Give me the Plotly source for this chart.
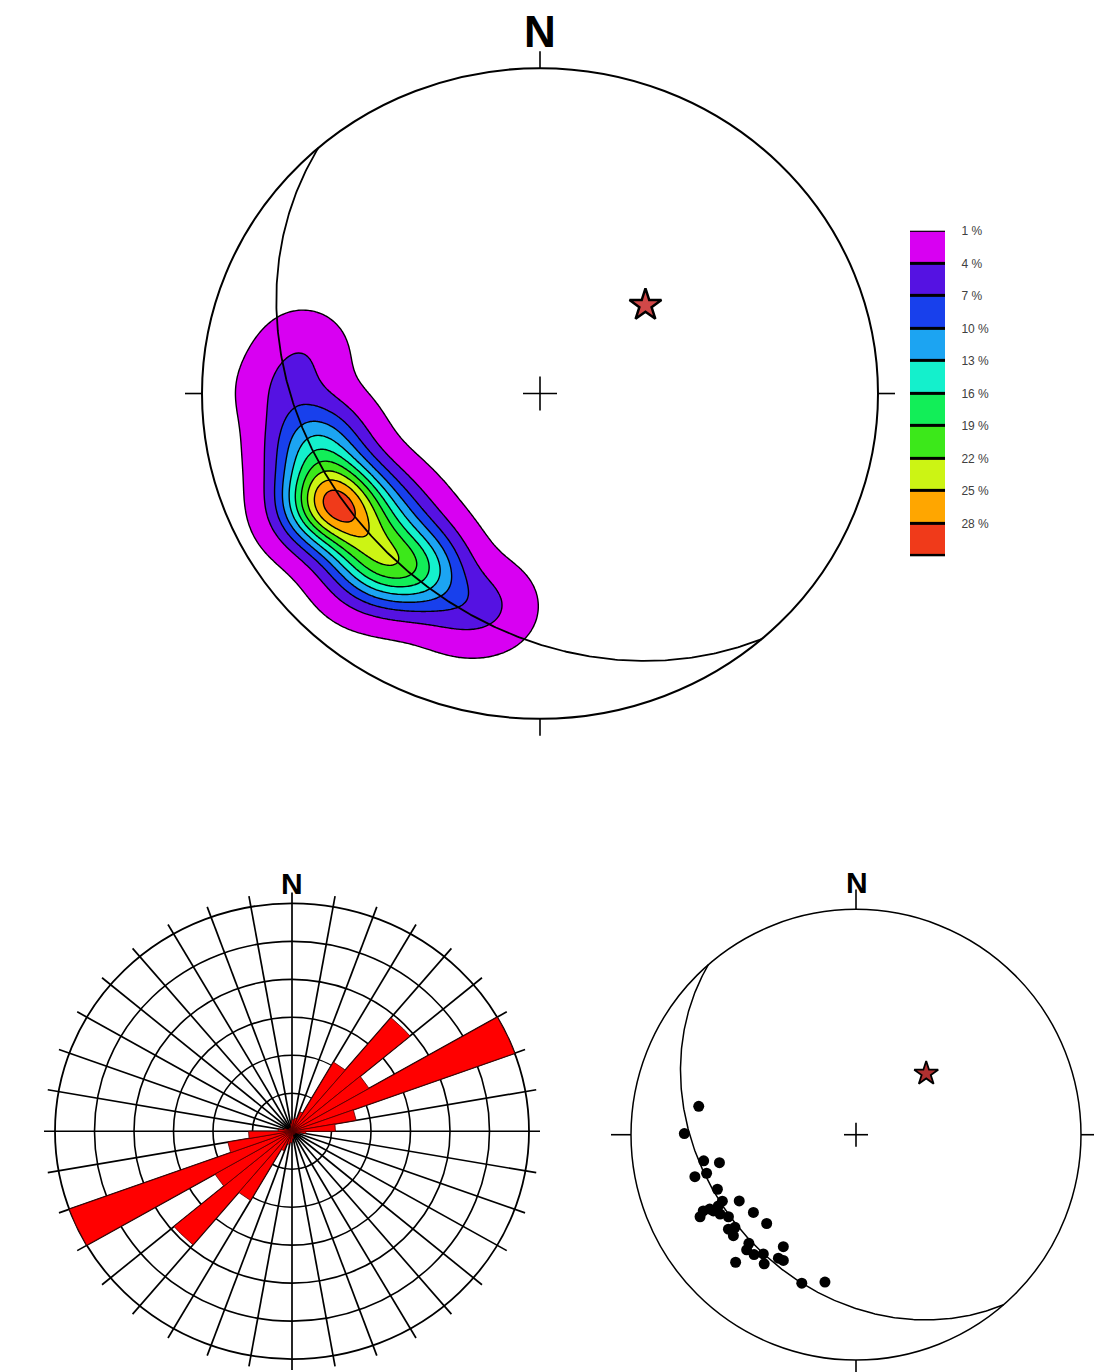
import numpy as np
import plotly.graph_objects as go

W, H = 1094, 1372

# ---------------- data ----------------
# Poles (Schmidt equal-area net, lower hemisphere; unit primitive; x = east, y = north)
pole_x = [-0.699, -0.763, -0.677, -0.607, -0.716, -0.664, -0.616, -0.594, -0.519, -0.679,
          -0.693, -0.634, -0.604, -0.567, -0.456, -0.397, -0.567, -0.538, -0.545, -0.476,
          -0.486, -0.453, -0.412, -0.323, -0.345, -0.323, -0.535, -0.408, -0.241, -0.138,
          -0.612, -0.650]
pole_y = [0.126, 0.005, -0.116, -0.124, -0.186, -0.171, -0.242, -0.295, -0.294, -0.338,
          -0.364, -0.338, -0.352, -0.364, -0.345, -0.394, -0.419, -0.411, -0.448, -0.482,
          -0.511, -0.532, -0.529, -0.497, -0.548, -0.558, -0.566, -0.573, -0.659, -0.654,
          -0.316, -0.330]

# Best-fit girdle pole (beta axis), trend / plunge in degrees
beta_trend = 49.0
beta_plunge = 56.0

# Contour levels (% per 1% area) and peak density of the diagram
level_values = [1, 4, 7, 10, 13, 16, 19, 22, 25, 28]
level_labels = ["1 %", "4 %", "7 %", "10 %", "13 %", "16 %", "19 %", "22 %", "25 %", "28 %"]
level_colors = ["#D800F2", "#5512E2", "#1840EC", "#1CA4F2", "#14F0CC",
                "#12EE58", "#3CE81A", "#CCF414", "#FFA600", "#F03A1A"]
peak_density = 30.0

# Rose diagram (bidirectional), 10-degree bins from 0 to 180; outer ring = 6
rose_bin_start = [0, 10, 20, 30, 40, 50, 60, 70, 80, 90, 100, 110, 120, 130, 140, 150, 160, 170]
rose_values = [0.3, 0.35, 0.55, 2.1, 3.9, 2.25, 6.0, 1.65, 1.1, 0.35, 0.2, 0.1,
               0.1, 0.1, 0.1, 0.1, 0.1, 0.2]
rose_rings = [1, 2, 3, 4, 5, 6]

# ---------------- helpers ----------------
def box(cx, cy, sx, sy, x0, x1, y0, y1):
    xd = [x0 / W, x1 / W]
    xr = [(x0 - cx) / sx, (x1 - cx) / sx]
    yd = [(H - y1) / H, (H - y0) / H]
    yr = [(cy - y1) / sy, (cy - y0) / sy]
    return xd, xr, yd, yr


def great_circle(trend, plunge, n=400):
    T, P = np.radians(trend), np.radians(plunge)
    p = np.array([np.cos(P) * np.sin(T), np.cos(P) * np.cos(T), np.sin(P)])
    a = np.array([np.cos(T), -np.sin(T), 0.0])
    b = np.cross(p, a)
    b /= np.linalg.norm(b)
    if b[2] < 0:
        b = -b
    t = np.linspace(0, np.pi, n)
    v = np.outer(np.cos(t), a) + np.outer(np.sin(t), b)
    d = np.clip(v[:, 2], 0, None)
    return v[:, 0] / np.sqrt(1 + d), v[:, 1] / np.sqrt(1 + d)


def project_line(trend, plunge):
    T, P = np.radians(trend), np.radians(plunge)
    e, n, d = np.cos(P) * np.sin(T), np.cos(P) * np.cos(T), np.sin(P)
    return e / np.sqrt(1 + d), n / np.sqrt(1 + d)


def net_shapes(xref, yref, sx, sy, tick_px, cross_px, lw):
    tx, ty = tick_px / sx, tick_px / sy
    cx, cy = cross_px / sx, cross_px / sy
    ln = dict(color="black", width=lw)
    s = [dict(type="circle", xref=xref, yref=yref, x0=-1, x1=1, y0=-1, y1=1, line=ln, layer="above")]
    for (x0, y0, x1, y1) in [(0, 1, 0, 1 + ty), (0, -1, 0, -1 - ty), (1, 0, 1 + tx, 0),
                             (-1, 0, -1 - tx, 0), (-cx, 0, cx, 0), (0, -cy, 0, cy)]:
        s.append(dict(type="line", xref=xref, yref=yref, x0=x0, y0=y0, x1=x1, y1=y1,
                      line=dict(color="black", width=1.6), layer="above"))
    return s


fig = go.Figure()
shapes = []

# ---------------- top: contoured pole diagram ----------------
T_CX, T_CY, T_SX, T_SY = 540, 388.5, 338, 327
xd1, xr1, yd1, yr1 = box(T_CX, T_CY, T_SX, T_SY, 120, 900, 0, 770)

px = np.array(pole_x)
py = np.array(pole_y)
g = np.linspace(-1, 1, 281)
GX, GY = np.meshgrid(g, g)
sigma = 0.087
d2 = (GX[..., None] - px) ** 2 + (GY[..., None] - py) ** 2
dens = np.exp(-d2 / (2 * sigma ** 2)).sum(-1)
dens = dens / dens.max() * peak_density
dens[GX ** 2 + GY ** 2 > 1.0] = np.nan

ncol = len(level_colors) + 1
cols = ["rgba(255,255,255,0)"] + level_colors
cscale = []
for k, c in enumerate(cols):
    lo = max(0.0, (k - 0.5) / (ncol - 1))
    hi = min(1.0, (k + 0.5) / (ncol - 1))
    cscale += [[lo, c], [hi, c]]
step = level_values[1] - level_values[0]

fig.add_trace(go.Contour(
    x=g, y=g, z=dens, xaxis="x", yaxis="y",
    autocontour=False,
    contours=dict(start=level_values[0], end=level_values[-1], size=step,
                  coloring="fill", showlines=True),
    line=dict(color="black", width=1.4, smoothing=1),
    colorscale=cscale, zmin=level_values[0] - step / 2, zmax=level_values[-1] + step / 2,
    zauto=False, showscale=False, hoverinfo="skip", connectgaps=False))

gcx, gcy = great_circle(beta_trend, beta_plunge)
fig.add_trace(go.Scatter(x=gcx, y=gcy, mode="lines", xaxis="x", yaxis="y",
                         line=dict(color="black", width=1.8), hoverinfo="skip"))
bx, by = project_line(beta_trend, beta_plunge)
fig.add_trace(go.Scatter(x=[bx], y=[by], mode="markers", xaxis="x", yaxis="y",
                         marker=dict(symbol="star", size=24, color="#D04848",
                                     line=dict(color="black", width=2.5)), hoverinfo="skip"))
shapes += net_shapes("x", "y", T_SX, T_SY, 17, 17, 2)

# ---------------- colour legend ----------------
xd2, xr2 = [910 / W, 945 / W], [0, 1]
yd2 = [(H - 552) / H, (H - 225) / H]
nlev = len(level_values)
leg_scale = []
for k, c in enumerate(level_colors):
    leg_scale += [[k / nlev, c], [(k + 1) / nlev, c]]
fig.add_trace(go.Heatmap(
    x=[0, 1], y=list(range(nlev + 1)), z=[[k] for k in range(nlev)],
    xaxis="x2", yaxis="y2", colorscale=leg_scale, zmin=-0.5, zmax=nlev - 0.5,
    showscale=False, ygap=3, xgap=0, hoverinfo="skip"))
shapes.append(dict(type="rect", xref="x2", yref="y2", x0=0, x1=1, y0=0, y1=nlev,
                   line=dict(color="black", width=2.5), fillcolor="black", layer="below"))

# ---------------- bottom-left: rose diagram (cartesian, outer ring = 1) ----------------
R_CX, R_CY, R_SX, R_SY = 292, 1130, 237, 229
xd4, xr4, yd4, yr4 = box(R_CX, R_CY, R_SX, R_SY, 20, 580, 870, 1372)
rmax = rose_rings[-1]
tick_out = 11.0 / R_SX
sx_, sy_ = [], []
for a in range(0, 360, 10):
    t = np.radians(a)
    sx_ += [0, (1 + tick_out) * np.sin(t), None]
    sy_ += [0, (1 + tick_out * R_SX / R_SY) * np.cos(t), None]
fig.add_trace(go.Scatter(x=sx_, y=sy_, mode="lines", xaxis="x4", yaxis="y4",
                         line=dict(color="black", width=1.7), hoverinfo="skip"))
for k in rose_rings:
    rr = k / rmax
    shapes.append(dict(type="circle", xref="x4", yref="y4", x0=-rr, x1=rr, y0=-rr, y1=rr,
                       line=dict(color="black", width=1.8 if k == rmax else 1.6), layer="below"))
for start, val in zip(rose_bin_start, rose_values):
    for off in (0, 180):
        ang = np.radians(np.linspace(start + off, start + off + 10, 12))
        rr = val / rmax
        xs = [0] + list(rr * np.sin(ang)) + [0]
        ys = [0] + list(rr * np.cos(ang)) + [0]
        fig.add_trace(go.Scatter(x=xs, y=ys, mode="lines", fill="toself", fillcolor="#FF0000",
                                 xaxis="x4", yaxis="y4",
                                 line=dict(color="#500000", width=0.8), hoverinfo="skip"))

# ---------------- bottom-right: poles + girdle ----------------
B_CX, B_CY, B_SX, B_SY = 856, 1133.5, 225, 226.5
xd3, xr3, yd3, yr3 = box(B_CX, B_CY, B_SX, B_SY, 600, 1094, 860, 1372)
fig.add_trace(go.Scatter(x=gcx, y=gcy, mode="lines", xaxis="x3", yaxis="y3",
                         line=dict(color="black", width=1.5), hoverinfo="skip"))
fig.add_trace(go.Scatter(x=pole_x, y=pole_y, mode="markers", xaxis="x3", yaxis="y3",
                         marker=dict(size=11, color="black"), hoverinfo="skip"))
fig.add_trace(go.Scatter(x=[bx], y=[by], mode="markers", xaxis="x3", yaxis="y3",
                         marker=dict(symbol="star", size=18, color="#B03030",
                                     line=dict(color="black", width=1.8)), hoverinfo="skip"))
shapes += net_shapes("x3", "y3", B_SX, B_SY, 20, 12, 1.5)

ax_hidden = dict(visible=False, showgrid=False, zeroline=False)
fig.update_layout(
    width=W, height=H, margin=dict(l=0, r=0, t=0, b=0),
    paper_bgcolor="white", plot_bgcolor="rgba(0,0,0,0)", showlegend=False,
    font=dict(family="Liberation Sans, Arial, sans-serif"),
    xaxis=dict(domain=xd1, range=xr1, **ax_hidden),
    yaxis=dict(domain=yd1, range=yr1, **ax_hidden),
    xaxis2=dict(domain=xd2, range=xr2, anchor="y2", **ax_hidden),
    yaxis2=dict(domain=yd2, range=[nlev, 0], anchor="x2", visible=True, showgrid=False,
                zeroline=False, side="right", tickmode="array", tickvals=list(range(nlev)),
                ticktext=level_labels, ticks="outside", ticklen=13, tickcolor="rgba(0,0,0,0)",
                showline=False,
                tickfont=dict(size=12, color="#404040", family="Liberation Sans, Arial")),
    xaxis3=dict(domain=xd3, range=xr3, anchor="y3", **ax_hidden),
    yaxis3=dict(domain=yd3, range=yr3, anchor="x3", **ax_hidden),
    xaxis4=dict(domain=xd4, range=xr4, anchor="y4", **ax_hidden),
    yaxis4=dict(domain=yd4, range=yr4, anchor="x4", **ax_hidden),
    shapes=shapes,
    annotations=[
        dict(text="<b>N</b>", x=540 / W, y=1 - 25 / H, xref="paper", yref="paper",
             showarrow=False, xanchor="center", yanchor="middle",
             font=dict(size=44, color="black", family="Liberation Sans, Arial")),
        dict(text="<b>N</b>", x=292 / W, y=1 - 881 / H, xref="paper", yref="paper",
             showarrow=False, xanchor="center", yanchor="middle",
             font=dict(size=30, color="black", family="Liberation Sans, Arial")),
        dict(text="<b>N</b>", x=857 / W, y=1 - 880 / H, xref="paper", yref="paper",
             showarrow=False, xanchor="center", yanchor="middle",
             font=dict(size=30, color="black", family="Liberation Sans, Arial")),
    ],
)

fig.write_html("out.html", config={"displayModeBar": False},
               post_script="document.body.style.margin='0';document.body.style.overflow='hidden';")
